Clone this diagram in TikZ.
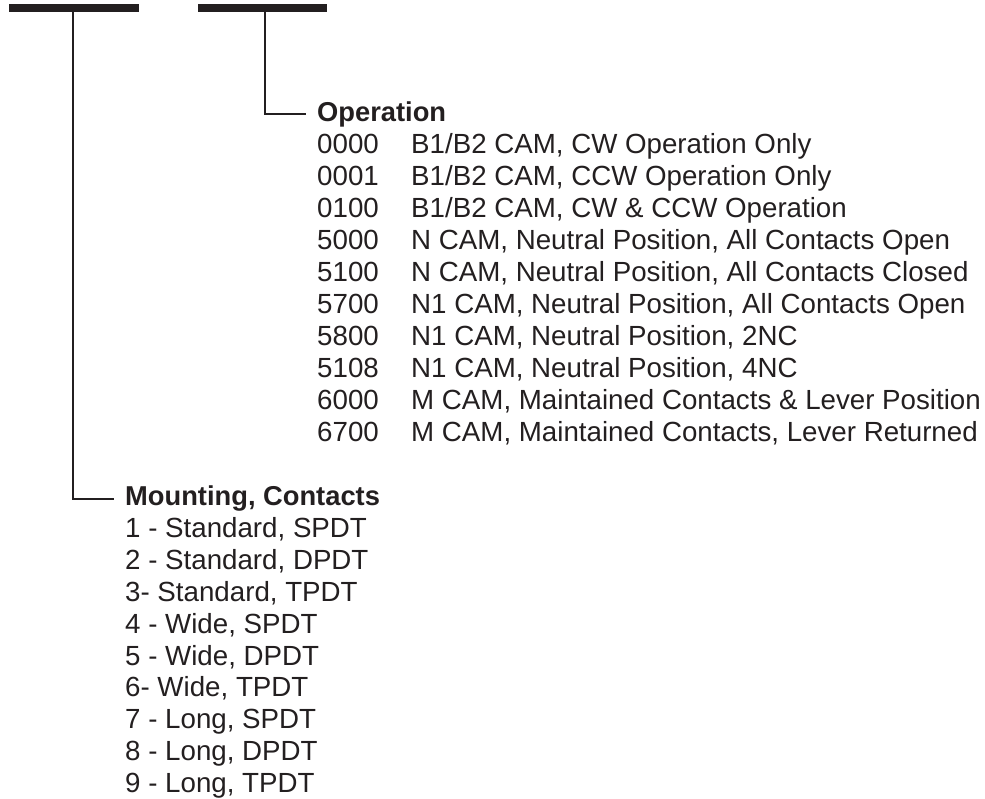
\documentclass[tikz,border=0pt]{standalone}
\usepackage{fontspec}
\setmainfont{Liberation Sans}
\definecolor{ink}{RGB}{35,31,32}
\tikzset{
  txt/.style={anchor=base west, inner sep=0pt, text=ink, font=\fontsize{27.7}{32}\selectfont},
  head/.style={txt, font=\fontsize{27.3}{32}\selectfont\bfseries},
  lead/.style={draw=ink, line width=2pt}
}
\begin{document}
\begin{tikzpicture}[x=1pt, y=-1pt]
\useasboundingbox (0,0) rectangle (985,799);
% code bars
\fill[ink] (9,4) rectangle (139,12.3);
\fill[ink] (198,4) rectangle (327,12.3);
\coordinate (mnt) at (73.3,12);
\coordinate (op) at (265,12);

% operation block
\node[head] (ophead) at (317,122) {Operation};
\foreach \code/\desc [count=\i] in {0000/{B1/B2 CAM, CW Operation Only},
    0001/{B1/B2 CAM, CCW Operation Only},
    0100/{B1/B2 CAM, CW \& CCW Operation},
    5000/{N CAM, Neutral Position, All Contacts Open},
    5100/{N CAM, Neutral Position, All Contacts Closed},
    5700/{N1 CAM, Neutral Position, All Contacts Open},
    5800/{N1 CAM, Neutral Position, 2NC},
    5108/{N1 CAM, Neutral Position, 4NC},
    6000/{M CAM, Maintained Contacts \& Lever Position},
    6700/{M CAM, Maintained Contacts, Lever Returned}}{
  \node[txt] (opc\i) at (317,122+31.9*\i) {\code};
  \node[txt] (opd\i) at (411,122+31.9*\i) {\desc};
}

% mounting block
\node[head] (mthead) at (125,505.5) {Mounting, Contacts};
\foreach \item [count=\i] in {{1 - Standard, SPDT}, {2 - Standard, DPDT}, {3- Standard, TPDT},
    {4 - Wide, SPDT}, {5 - Wide, DPDT}, {6- Wide, TPDT},
    {7 - Long, SPDT}, {8 - Long, DPDT}, {9 - Long, TPDT}}{
  \node[txt] (mt\i) at (125,505.5+31.9*\i) {\item};
}

\draw[lead] (op) |- ([shift={(-11,-8)}]ophead.base west);
\draw[lead] (mnt) |- ([shift={(-11,-6.5)}]mthead.base west);
\end{tikzpicture}
\end{document}
